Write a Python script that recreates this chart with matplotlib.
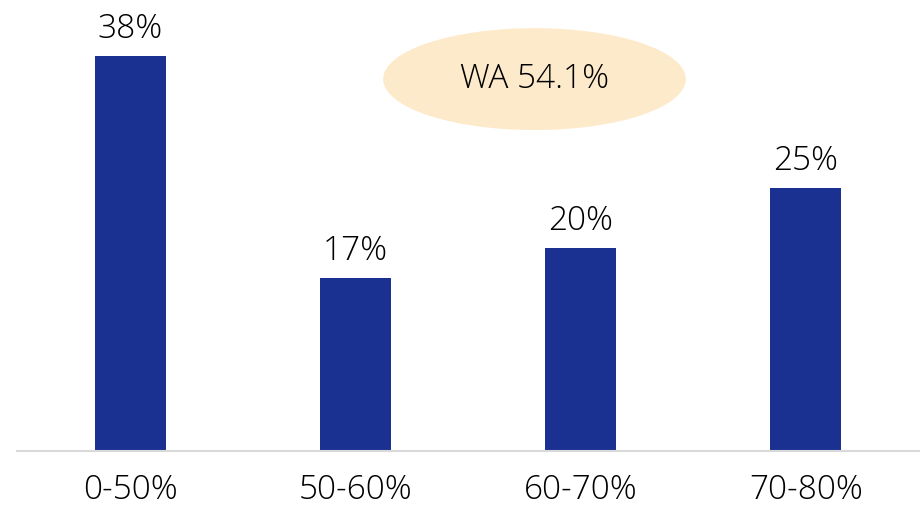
import matplotlib
matplotlib.use("Agg")
import matplotlib.pyplot as plt
from matplotlib import patches

categories = ["0-50%", "50-60%", "60-70%", "70-80%"]
shares = [38.2, 16.7, 19.6, 25.4]
wa_label = "WA 54.1%"

plt.rcParams['font.family'] = ['Open Sans', 'DejaVu Sans']

fig = plt.figure(figsize=(9.22, 5.09), dpi=100)
ax = fig.add_axes([17.5/922, 58/509, 901/922, 447/509])

x = range(len(categories))
bars = ax.bar(x, shares, width=0.315, color="#1B3192")
for b, v in zip(bars, shares):
    ax.annotate(f"{v:.0f}%", (b.get_x() + b.get_width()/2, v), xytext=(0, 7),
                textcoords="offset points", ha="center", va="bottom",
                fontsize=24, fontweight="light")

ax.set_xlim(-0.5, len(categories) - 0.5)
ax.set_ylim(0, 43.2)
ax.set_xticks(list(x))
ax.set_xticklabels(categories, fontsize=24, fontweight="light")
ax.tick_params(axis="x", length=0, pad=16)
ax.set_yticks([])
for s in ["left", "right", "top"]:
    ax.spines[s].set_visible(False)
ax.spines["bottom"].set_color("#D9D9D9")
ax.spines["bottom"].set_linewidth(1.5)

el = patches.Ellipse((0.5738, 0.832), 0.336, 0.228, transform=ax.transAxes,
                     facecolor="#FDEACB", edgecolor="none", zorder=3)
ax.add_patch(el)
ax.text(0.5738, 0.832, wa_label, transform=ax.transAxes, ha="center", va="center",
        fontsize=24, fontweight="light", zorder=4)

fig.savefig("out.png", dpi=100)
